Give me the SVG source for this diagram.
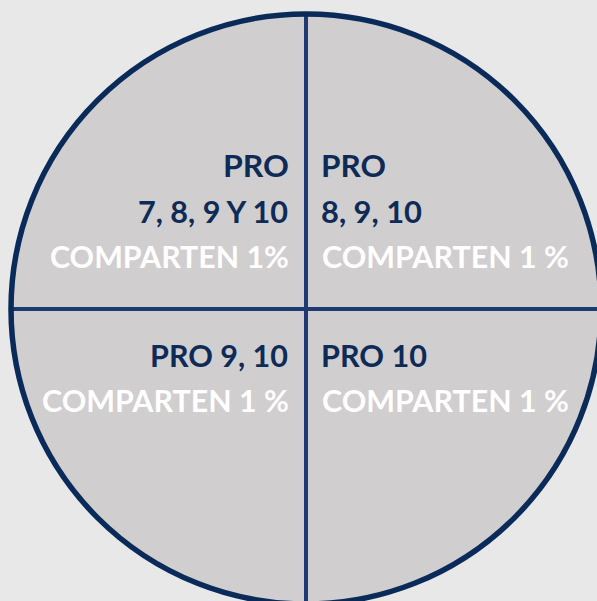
<svg xmlns="http://www.w3.org/2000/svg" width="597" height="601" viewBox="0 0 597 601">
  <style>
    .disc { fill: #d0cecf; }
    .rim { fill: none; stroke: #0a2b5a; stroke-width: 5.5; }
    .divider { stroke: #1e3a70; stroke-width: 4; }
    text { font-family: "Lato", "Liberation Sans", sans-serif; font-weight: 700; font-size: 31px; }
    .navy { fill: #0e2a56; }
    .white { fill: #ffffff; }
    .end { text-anchor: end; }
  </style>
  <defs>
    <clipPath id="disc-clip">
      <circle cx="306" cy="309" r="295"/>
    </clipPath>
  </defs>

  <rect width="597" height="601" fill="#e8e8e8"/>
  <circle class="disc" cx="306" cy="309" r="295"/>

  <!-- quadrant dividers -->
  <g id="dividers" clip-path="url(#disc-clip)">
    <line class="divider" x1="306" y1="0" x2="306" y2="610"/>
    <line class="divider" x1="0" y1="309" x2="610" y2="309"/>
  </g>

  <circle class="rim" cx="306" cy="309" r="295"/>

  <g id="top-left">
    <text class="navy end" x="289" y="177" textLength="66" lengthAdjust="spacingAndGlyphs">PRO</text>
    <text class="navy end" x="288" y="223" textLength="150" lengthAdjust="spacingAndGlyphs">7, 8, 9 Y 10</text>
    <text class="white end" x="289" y="268" textLength="239" lengthAdjust="spacingAndGlyphs">COMPARTEN 1%</text>
  </g>

  <g id="top-right">
    <text class="navy" x="321" y="177" textLength="65" lengthAdjust="spacingAndGlyphs">PRO</text>
    <text class="navy" x="321" y="223" textLength="101" lengthAdjust="spacingAndGlyphs">8, 9, 10</text>
    <text class="white" x="322" y="268" textLength="247" lengthAdjust="spacingAndGlyphs">COMPARTEN 1 %</text>
  </g>

  <g id="bottom-left">
    <text class="navy end" x="288" y="367" textLength="138" lengthAdjust="spacingAndGlyphs">PRO 9, 10</text>
    <text class="white end" x="289" y="412" textLength="247" lengthAdjust="spacingAndGlyphs">COMPARTEN 1 %</text>
  </g>

  <g id="bottom-right">
    <text class="navy" x="321" y="367" textLength="106" lengthAdjust="spacingAndGlyphs">PRO 10</text>
    <text class="white" x="322" y="412" textLength="247" lengthAdjust="spacingAndGlyphs">COMPARTEN 1 %</text>
  </g>
</svg>
